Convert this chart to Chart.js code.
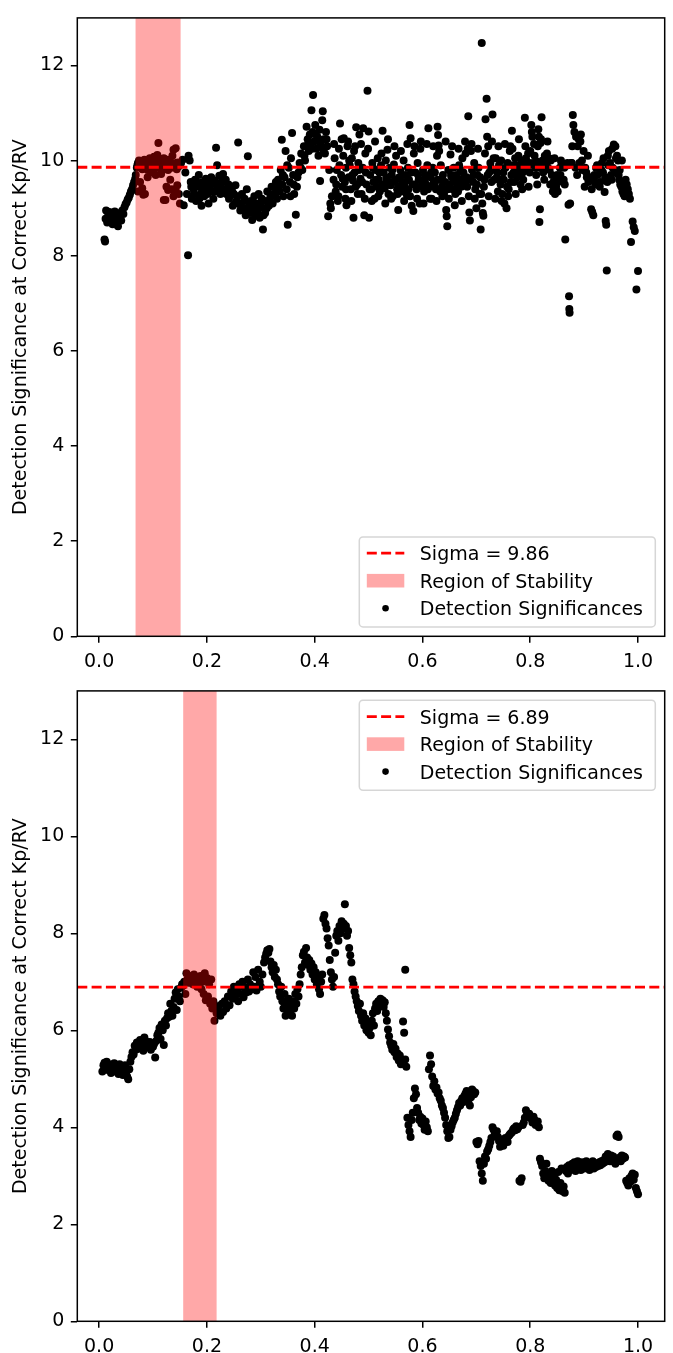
<!DOCTYPE html>
<html>
<head>
<meta charset="utf-8">
<script src="https://cdn.jsdelivr.net/npm/chart.js@4"></script>
<style>
  html, body { margin:0; padding:0; background:#fff; }
  #wrap { position:relative; width:673px; height:1353px; }
  canvas { position:absolute; left:0; }
  #c1 { top:0; }
  #c2 { top:673px; }
</style>
</head>
<body>
<div id="wrap">
  <canvas id="c1" width="673" height="673"></canvas>
  <canvas id="c2" width="673" height="680"></canvas>
</div>
<script>
// ---------------- DATA ----------------
const xTicks = [0.0, 0.2, 0.4, 0.6, 0.8, 1.0];
const yTicks = [0, 2, 4, 6, 8, 10, 12];
const yLabel = 'Detection Significance at Correct Kp/RV';
const legendLabels = ['Sigma = 9.86', 'Region of Stability', 'Detection Significances'];
const legendLabels2 = ['Sigma = 6.89', 'Region of Stability', 'Detection Significances'];
const topSigma = 9.86;
const botSigma = 6.89;
const topBand = [0.0676, 0.1512];
const botBand = [0.156, 0.218];

const topData = [
[0.010,8.34],[0.011,8.30],[0.012,8.78],[0.013,8.95],[0.015,8.70],[0.017,8.85],[0.019,8.92],[0.021,8.75],[0.023,8.88],[0.025,8.66],[0.027,8.82],[0.029,8.93],[0.031,8.78],[0.033,8.70],[0.035,8.62],[0.037,8.85],[0.039,8.90],[0.041,8.74],[0.043,8.95],[0.045,8.88],
[0.047,9.02],[0.049,9.08],[0.051,9.12],[0.053,9.18],[0.055,9.22],[0.057,9.28],[0.059,9.35],[0.061,9.40],[0.063,9.48],[0.065,9.55],[0.067,9.62],[0.068,9.70],
[0.070,9.85],[0.072,9.95],[0.074,10.00],[0.076,9.90],[0.078,9.98],[0.080,9.82],[0.082,9.93],[0.084,10.02],[0.086,9.88],[0.088,9.96],[0.090,9.80],[0.092,9.92],[0.094,10.05],[0.096,9.86],[0.098,9.98],[0.100,9.90],[0.102,10.08],[0.104,9.84],[0.106,9.95],[0.108,10.12],[0.110,10.37],[0.112,9.90],[0.114,10.03],[0.116,9.78],[0.118,9.92],[0.120,10.05],[0.122,9.86],[0.124,9.95],[0.126,10.02],[0.128,9.80],[0.130,9.93],[0.132,9.98],[0.134,9.85],[0.136,10.10],[0.138,10.23],[0.140,9.90],[0.142,10.26],[0.144,9.82],[0.146,9.96],[0.148,9.88],
[0.072,9.35],[0.076,9.55],[0.080,9.42],[0.082,9.28],[0.085,9.30],[0.090,9.65],[0.097,9.75],[0.105,9.70],[0.115,9.72],[0.120,9.17],[0.123,9.17],[0.125,9.45],[0.128,9.38],[0.132,9.60],[0.135,9.40],[0.138,9.25],[0.142,9.38],[0.145,9.48],[0.148,9.30],[0.150,9.10],
[0.071,9.90],[0.079,9.95],[0.087,9.85],[0.095,9.92],[0.103,9.88],[0.111,9.95],[0.119,9.85],[0.127,9.92],[0.135,9.88],[0.143,9.95],
[0.152,9.95],[0.155,10.02],[0.157,9.06],[0.160,9.75],[0.163,9.30],[0.165,8.01],[0.166,10.10],[0.168,10.00],[0.170,9.55],[0.172,9.20],[0.175,9.40],[0.178,9.60],[0.180,9.15],[0.183,9.45],[0.185,9.70],[0.188,9.30],[0.190,9.05],[0.192,9.55],[0.195,9.25],[0.198,9.62],[0.200,9.40],[0.203,9.10],[0.205,9.50],[0.208,9.65],[0.210,9.35],[0.212,9.20],[0.215,9.58],[0.217,10.27],[0.219,9.90],[0.220,9.45],[0.223,9.68],[0.225,9.30],[0.228,9.55],[0.230,9.72],[0.232,9.40],[0.235,9.60],[0.238,9.35],
[0.171,9.45],[0.176,9.30],[0.181,9.55],[0.186,9.20],[0.191,9.40],[0.196,9.50],[0.201,9.30],[0.206,9.45],[0.211,9.55],[0.216,9.35],[0.221,9.50],[0.226,9.40],[0.231,9.55],[0.236,9.30],
[0.240,9.50],[0.243,9.25],[0.246,9.45],[0.248,9.05],[0.250,9.30],[0.253,9.48],[0.255,9.15],[0.258,10.38],[0.260,9.10],[0.262,8.95],[0.265,9.30],[0.268,9.00],[0.270,9.20],[0.272,8.85],[0.274,9.40],[0.276,10.09],[0.278,9.05],[0.280,8.90],[0.282,9.15],[0.284,8.75],[0.286,9.00],[0.288,9.25],[0.290,8.85],[0.292,9.10],[0.294,8.95],[0.296,9.30],[0.298,8.80],[0.300,9.05],[0.302,9.20],[0.304,8.55],[0.306,9.00],[0.308,8.90],[0.310,9.15],[0.312,9.35],[0.315,9.05],[0.318,9.25],[0.320,9.45],[0.322,9.10],[0.325,9.30],[0.328,9.55],[0.330,9.20],
[0.241,9.20],[0.247,9.35],[0.252,9.10],[0.257,9.25],[0.263,9.05],[0.269,9.15],[0.275,8.95],[0.281,9.05],[0.287,8.90],[0.293,9.00],[0.299,9.10],[0.305,8.85],[0.311,9.00],[0.317,9.15],[0.323,9.30],[0.329,9.40],
[0.332,9.60],[0.335,9.35],[0.337,9.80],[0.339,10.44],[0.340,9.50],[0.342,9.25],[0.344,9.65],[0.346,10.20],[0.348,9.40],[0.350,8.65],[0.352,9.85],[0.354,9.55],[0.356,10.05],[0.358,10.58],[0.360,9.70],[0.362,9.30],[0.365,8.86],[0.367,9.45],[0.370,9.75],[0.372,9.95],[0.375,10.15],[0.377,9.80],[0.380,10.30],[0.382,10.00],[0.385,10.71],[0.387,10.45],[0.389,10.20],[0.391,10.55],[0.393,10.35],[0.394,11.06],[0.396,10.60],[0.397,11.38],[0.399,10.40],[0.401,10.75],[0.403,10.25],[0.405,10.50],[0.407,10.10],[0.409,10.65],[0.410,9.57],[0.412,10.30],[0.414,10.85],[0.415,11.04],[0.417,10.45],[0.419,10.15],[0.421,10.60],[0.423,10.30],[0.425,8.83],[0.427,9.80],[0.429,9.10],[0.430,9.00],[0.432,9.25],
[0.334,9.45],[0.341,9.70],[0.349,9.90],[0.355,9.25],[0.361,9.50],[0.368,9.65],[0.374,9.85],[0.381,10.10],[0.388,10.35],[0.395,10.25],[0.402,10.55],[0.408,10.40],[0.416,10.20],[0.422,10.45],
[0.435,9.60],[0.437,10.05],[0.439,9.35],[0.441,9.80],[0.443,9.15],[0.445,10.25],[0.447,10.78],[0.449,9.70],[0.451,9.45],[0.453,10.10],[0.454,10.47],[0.456,9.55],[0.458,9.85],[0.459,9.06],[0.461,10.30],[0.463,9.65],[0.465,9.90],[0.467,9.40],[0.469,10.05],[0.471,9.58],[0.472,8.80],[0.474,9.75],[0.475,10.30],[0.477,10.70],[0.479,9.50],[0.481,9.95],[0.483,10.55],[0.485,9.62],[0.487,9.30],[0.489,9.85],[0.490,10.68],[0.492,8.85],[0.494,10.15],[0.496,9.50],[0.498,11.47],[0.500,10.61],[0.501,8.80],[0.503,9.70],[0.505,9.40],[0.507,9.95],
[0.509,9.55],[0.511,9.20],[0.513,9.80],[0.515,9.45],[0.517,10.05],[0.519,9.60],[0.521,9.35],[0.523,9.90],[0.525,9.50],[0.526,10.63],[0.528,9.75],[0.530,9.42],[0.532,10.00],[0.534,9.58],[0.535,10.23],[0.537,9.30],[0.539,9.85],[0.541,9.48],[0.543,9.70],[0.545,9.25],[0.547,9.92],[0.549,9.55],[0.551,10.10],[0.553,9.40],[0.555,8.96],[0.557,9.65],[0.559,9.80],[0.561,9.35],[0.563,9.55],[0.565,10.00],[0.567,9.45],[0.569,9.70],[0.571,9.28],[0.573,9.85],[0.575,9.60],[0.576,10.75],[0.578,10.47],[0.580,9.05],[0.582,9.50],[0.583,8.94],[0.585,10.30],[0.587,9.75],[0.589,9.40],[0.591,9.95],[0.593,9.60],[0.595,9.10],[0.597,10.40],[0.599,9.55],
[0.601,9.80],[0.603,9.35],[0.605,9.70],[0.607,9.50],[0.609,9.90],[0.611,10.68],[0.613,9.45],[0.615,9.65],[0.617,9.20],[0.619,9.85],[0.621,9.55],[0.623,9.75],[0.625,9.40],[0.627,10.10],[0.628,10.71],[0.629,10.54],[0.630,10.32],[0.632,9.60],[0.634,9.90],[0.636,9.45],[0.638,9.70],[0.640,9.30],[0.642,9.55],[0.644,8.96],[0.645,8.83],[0.646,8.62],[0.648,9.80],[0.650,9.50],[0.652,10.13],[0.654,9.65],[0.656,9.40],[0.658,9.85],[0.660,9.06],[0.662,9.55],[0.664,9.70],[0.666,9.35],[0.668,9.90],[0.670,9.60],[0.672,9.45],[0.674,10.05],[0.676,9.75],[0.678,9.50],[0.680,10.15],[0.682,9.65],[0.684,10.25],[0.685,10.93],[0.687,8.91],[0.688,8.74],[0.690,10.20],[0.692,9.80],[0.694,9.55],[0.696,9.95],[0.698,9.40],[0.700,9.00],
[0.702,9.70],[0.704,9.85],[0.706,9.30],[0.708,8.55],[0.710,12.47],[0.711,9.10],[0.712,8.90],[0.713,8.84],[0.715,9.60],[0.717,10.87],[0.719,11.30],[0.720,10.50],[0.722,10.30],[0.724,9.75],[0.726,9.95],[0.728,9.55],[0.730,10.97],[0.732,10.05],[0.734,9.80],[0.736,10.05],[0.738,9.65],[0.740,9.35],[0.742,9.90],[0.744,9.60],[0.746,10.00],[0.748,9.30],[0.750,9.75],[0.752,9.10],[0.754,9.85],[0.756,9.00],[0.758,9.95],[0.760,9.40],[0.762,10.20],[0.763,10.30],[0.765,9.70],[0.766,10.63],[0.768,9.90],[0.770,9.55],[0.772,10.05],[0.774,9.80],[0.776,9.65],[0.778,10.10],[0.780,9.85],[0.782,9.50],[0.784,10.00],[0.786,9.75],[0.788,9.90],[0.790,10.90],[0.792,10.05],[0.794,9.80],[0.796,10.15],[0.798,9.95],[0.800,10.20],
[0.802,10.75],[0.803,10.60],[0.804,10.50],[0.806,9.90],[0.808,10.10],[0.810,9.85],[0.812,9.98],[0.814,10.30],[0.815,10.66],[0.816,10.50],[0.817,8.71],[0.818,8.98],[0.819,10.37],[0.821,10.91],[0.823,10.00],[0.825,9.90],[0.827,10.10],[0.829,9.95],[0.831,10.15],[0.833,9.85],[0.835,10.05],[0.838,10.00],[0.840,9.70],[0.842,9.35],[0.844,9.40],[0.846,9.30],[0.848,9.45],[0.850,9.70],[0.852,9.55],[0.855,9.85],[0.858,9.95],[0.860,9.90],[0.862,9.60],[0.865,8.34],[0.867,9.90],[0.869,9.95],[0.871,9.07],[0.872,7.15],[0.8725,6.88],[0.873,6.80],[0.874,9.10],[0.876,9.95],[0.879,10.96],[0.880,10.75],[0.882,10.60],[0.885,10.50],[0.888,10.30],[0.890,10.45],[0.893,10.40],[0.896,10.00],[0.899,10.20],
[0.902,9.85],[0.905,9.65],[0.908,9.55],[0.910,9.60],[0.913,8.98],[0.915,8.92],[0.917,8.85],[0.919,9.70],[0.921,9.50],[0.924,9.90],[0.927,9.85],[0.930,9.55],[0.933,9.95],[0.935,9.75],[0.938,9.34],[0.940,8.73],[0.941,8.65],[0.942,7.69],[0.944,10.10],[0.946,10.20],[0.948,9.95],[0.950,9.70],[0.952,10.25],[0.955,10.34],[0.957,9.80],[0.959,10.05],[0.961,10.10],[0.963,10.00],[0.965,9.60],[0.967,9.50],[0.969,9.45],[0.971,9.35],[0.973,9.30],[0.975,9.25],[0.977,9.60],[0.979,9.50],[0.981,9.40],[0.983,9.30],[0.985,9.20],[0.987,8.29],[0.990,8.72],[0.992,8.60],[0.994,8.52],[0.997,7.29],[1.000,7.68],
[0.440,9.50],[0.446,9.90],[0.452,9.62],[0.458,9.40],[0.464,10.00],[0.470,9.70],[0.476,9.45],[0.482,9.80],[0.488,9.55],[0.495,9.75],[0.502,9.40],[0.508,9.85],[0.514,9.60],[0.520,9.75],[0.527,9.45],[0.533,9.65],[0.538,9.55],[0.544,9.80],[0.550,9.60],[0.556,9.45],[0.562,9.70],[0.568,9.55],[0.574,9.40],[0.579,9.75],[0.586,9.50],[0.592,9.70],[0.598,9.45],[0.604,9.60],[0.610,9.40],[0.616,9.75],[0.622,9.50],[0.628,9.60],[0.633,9.35],[0.639,9.55],[0.647,9.40],[0.653,9.70],[0.659,9.55],[0.665,9.45],[0.671,9.80],[0.677,9.60],[0.683,9.45],[0.689,9.60],[0.695,9.70],[0.701,9.50],[0.707,9.65],[0.714,9.45],[0.721,9.70],[0.727,9.85],[0.733,9.60],[0.739,9.75],[0.745,9.50],[0.751,9.60],[0.757,9.45],[0.764,9.55],[0.769,9.75],[0.775,9.90],[0.781,9.70],[0.787,9.60],[0.793,9.85],[0.799,9.75],[0.805,9.95],[0.811,9.70],[0.818,9.85],[0.824,9.75],[0.830,9.90],[0.836,9.80],[0.843,9.55],[0.849,9.60],[0.856,9.70],[0.863,9.85],[0.870,9.90],[0.877,9.95],[0.884,9.85],[0.891,9.95],[0.897,9.80],[0.904,9.75],[0.911,9.65],[0.918,9.60],[0.925,9.70],[0.932,9.80],[0.939,9.65],[0.945,9.90],[0.953,9.85],[0.960,9.75],[0.966,9.80],[0.972,9.55],
[0.436,10.35],[0.444,9.25],[0.450,10.45],[0.457,9.20],[0.462,10.40],[0.468,9.15],[0.473,10.20],[0.480,9.30],[0.486,10.35],[0.493,9.20],[0.499,10.25],[0.506,9.15],[0.512,10.40],[0.518,9.25],[0.524,10.15],[0.531,9.10],[0.536,10.45],[0.542,9.20],[0.548,10.30],[0.554,9.30],[0.560,10.20],[0.566,9.15],[0.572,10.35],[0.577,9.25],[0.584,10.15],[0.590,9.20],[0.596,10.25],[0.602,9.10],[0.608,10.35],[0.614,9.20],[0.620,10.30],[0.626,9.15],[0.631,10.20],[0.637,9.25],[0.643,10.40],[0.649,9.20],[0.655,10.30],[0.661,9.30],[0.667,10.25],[0.673,9.15],[0.679,10.40],[0.686,9.25],[0.691,10.35],[0.697,9.20],[0.703,10.25],[0.709,9.30],[0.716,10.15],[0.723,9.25],[0.729,10.40],[0.735,9.20],[0.741,10.30],[0.747,9.15],[0.753,10.35],[0.759,9.25],[0.767,10.25],[0.773,9.30],[0.779,10.45],[0.785,9.40],[0.791,10.30],[0.797,9.45],[0.807,10.35],[0.813,9.50],[0.820,10.45],[0.826,9.60],[0.832,10.40],[0.837,9.50],[0.845,10.05],[0.851,9.35],[0.857,10.00],[0.864,9.50],[0.878,10.30],[0.887,9.70],[0.894,10.55],[0.901,9.45],[0.907,10.10],[0.914,9.40],[0.922,9.85],[0.929,9.45],[0.936,10.05],[0.943,9.55],[0.951,9.60],[0.958,10.30],[0.964,9.70],[0.970,10.00]
];

const botData = [
[0.006,5.15],[0.008,5.28],[0.010,5.33],[0.012,5.22],[0.014,5.35],[0.016,5.18],[0.018,5.30],[0.020,5.25],[0.022,5.12],[0.024,5.28],[0.026,5.20],[0.028,5.32],[0.030,5.15],[0.032,5.26],[0.034,5.22],[0.036,5.10],[0.038,5.30],[0.040,5.24],[0.042,5.18],[0.044,5.08],[0.046,5.22],[0.048,5.28],[0.050,5.12],[0.052,5.05],[0.054,4.99],[0.056,5.20],
[0.058,5.35],[0.060,5.45],[0.062,5.55],[0.064,5.50],[0.066,5.68],[0.068,5.60],[0.070,5.75],[0.072,5.62],[0.074,5.70],[0.076,5.80],[0.078,5.66],[0.080,5.72],[0.082,5.58],[0.084,5.85],[0.086,5.78],[0.088,5.65],[0.090,5.72],[0.092,5.68],[0.094,5.76],[0.096,5.60],[0.098,5.70],[0.100,5.66],[0.102,5.72],[0.104,5.44],[0.106,5.78],[0.108,5.90],[0.110,5.95],[0.112,6.05],[0.114,5.82],[0.116,6.12],[0.118,6.00],[0.120,5.70],[0.122,6.20],[0.124,6.10],[0.126,6.25],[0.128,6.35],[0.130,6.28],[0.132,6.55],[0.134,6.40],[0.136,6.30],[0.138,6.48],[0.140,6.65],[0.142,6.78],[0.144,6.42],[0.146,6.85],[0.148,6.70],[0.150,6.60],[0.152,6.88],[0.154,6.95],
[0.156,6.92],[0.158,7.00],[0.160,6.75],[0.162,7.18],[0.164,7.05],[0.166,6.98],[0.168,7.12],[0.170,7.02],[0.172,7.08],[0.174,6.95],[0.176,7.15],[0.178,7.00],[0.180,7.10],[0.182,6.90],[0.184,7.05],[0.186,6.95],[0.188,7.12],[0.190,6.85],[0.192,7.00],[0.194,6.75],[0.196,7.18],[0.198,6.62],[0.200,7.08],[0.202,6.70],[0.204,6.95],[0.206,6.55],[0.208,7.05],[0.210,6.45],[0.212,6.60],[0.214,6.20],[0.216,6.48],
[0.218,6.35],[0.220,6.42],[0.222,6.50],[0.225,6.30],[0.228,6.55],[0.230,6.38],[0.233,6.60],[0.236,6.45],[0.239,6.70],[0.242,6.52],[0.245,6.80],[0.248,6.65],[0.250,6.90],[0.253,6.72],[0.256,6.85],[0.258,6.60],[0.260,6.95],[0.263,6.75],[0.266,7.00],[0.268,6.68],[0.270,6.88],[0.273,6.78],[0.276,7.05],[0.278,6.80],[0.280,6.95],[0.283,6.85],[0.286,7.20],[0.288,6.90],[0.290,7.10],[0.292,6.82],[0.295,7.25],[0.298,7.00],[0.300,6.90],[0.303,7.15],[0.306,7.40],[0.308,7.50],[0.310,7.58],[0.312,7.65],[0.314,7.60],[0.316,7.68],[0.318,7.42],[0.320,7.30],[0.322,7.20],[0.324,7.35],[0.326,7.10],[0.328,7.25],[0.330,7.05],[0.332,6.95],[0.334,6.80],[0.336,6.70],[0.338,6.90],[0.340,6.60],[0.342,6.45],[0.344,6.75],[0.346,6.30],[0.348,6.55],[0.350,6.40],[0.352,6.65],[0.354,6.35],[0.356,6.50],[0.358,6.30],[0.360,6.60],[0.362,6.45],[0.364,6.75],[0.366,6.55],[0.368,6.85],[0.370,6.70],[0.372,6.95],[0.374,7.15],[0.376,7.30],[0.378,7.55],[0.380,7.62],[0.382,7.40],[0.384,7.70],[0.386,7.50],[0.388,7.35],[0.390,7.45],[0.392,7.25],[0.394,7.38],[0.396,7.15],[0.398,7.30],[0.400,7.05],[0.402,7.20],[0.404,6.95],[0.406,7.10],[0.408,6.85],[0.410,6.75],[0.412,7.00],[0.414,7.15],[0.416,8.30],[0.418,8.38],[0.420,8.20],[0.422,8.10],[0.424,7.90],[0.426,7.75],[0.428,7.45],[0.430,7.20],[0.432,7.05],[0.434,6.90],[0.436,7.10],[0.438,7.60],[0.440,7.95],[0.442,8.05],[0.444,7.85],[0.446,8.15],[0.448,8.00],[0.450,8.25],[0.452,8.10],[0.454,8.20],[0.456,8.60],[0.458,8.15],[0.460,7.95],[0.462,8.05],[0.464,7.70],[0.466,7.55],[0.468,7.40],[0.470,7.05],[0.472,6.95],[0.474,6.80],[0.476,6.70],[0.478,6.60],[0.480,6.50],[0.482,6.40],[0.484,6.55],[0.486,6.30],[0.488,6.20],[0.490,6.35],[0.492,6.10],[0.494,6.25],[0.496,6.00],[0.498,6.15],[0.500,5.95],[0.502,6.05],[0.504,5.90],[0.506,6.20],[0.508,6.35],[0.510,6.10],[0.512,6.45],[0.514,6.55],[0.516,6.40],[0.518,6.60],[0.520,6.50],[0.522,6.65],[0.524,6.55],[0.526,6.62],[0.528,6.48],[0.530,6.58],[0.532,6.35],[0.534,6.20],[0.536,6.02],[0.538,5.88],[0.540,5.75],[0.542,5.68],[0.544,5.60],[0.546,5.72],[0.548,5.55],[0.550,5.62],[0.552,5.45],[0.554,5.52],[0.556,5.38],[0.558,5.48],[0.560,5.30],[0.568,7.25],[0.564,6.18],[0.566,5.95],[0.568,5.40],[0.570,5.25],[0.572,4.20],[0.574,4.05],[0.576,3.92],[0.578,3.80],[0.580,4.15],[0.582,4.30],[0.584,4.60],[0.586,4.80],[0.588,4.68],[0.590,4.40],[0.592,4.30],[0.594,4.15],[0.596,4.22],[0.598,4.08],[0.600,4.18],[0.602,4.05],[0.604,3.95],[0.606,4.12],[0.608,4.00],[0.610,3.92],[0.612,5.20],[0.614,5.48],[0.616,5.30],[0.618,5.05],[0.620,4.85],[0.622,4.95],[0.624,4.78],[0.626,4.82],[0.628,4.70],[0.630,4.72],[0.632,4.60],[0.634,4.55],[0.636,4.45],[0.638,4.40],[0.640,4.30],[0.642,4.20],[0.644,4.05],[0.646,3.92],[0.648,3.78],[0.650,3.80],[0.652,3.95],[0.654,4.02],[0.656,4.10],[0.658,4.15],[0.660,4.20],[0.662,4.28],[0.664,4.35],[0.666,4.42],[0.668,4.50],[0.670,4.45],[0.672,4.55],[0.674,4.60],[0.676,4.52],[0.678,4.65],[0.680,4.70],[0.682,4.75],[0.684,4.72],[0.686,4.58],[0.688,4.45],[0.690,4.62],[0.692,4.78],[0.694,4.75],[0.696,4.68],[0.698,4.72],[0.700,3.70],[0.702,3.65],[0.704,3.72],[0.706,3.30],[0.708,3.20],[0.710,3.05],[0.712,2.90],[0.714,3.25],[0.716,3.40],[0.718,3.35],[0.720,3.50],[0.722,3.55],[0.724,3.62],[0.726,3.70],[0.728,3.78],[0.730,4.00],[0.732,3.95],[0.734,3.85],[0.736,3.88],[0.738,3.92],[0.740,3.80],[0.742,3.72],[0.744,3.60],[0.746,3.75],[0.748,3.68],[0.750,3.62],[0.752,3.70],[0.754,3.78],[0.756,3.74],[0.758,3.70],[0.760,3.82],[0.762,3.85],[0.764,3.88],[0.766,3.90],[0.768,3.95],[0.770,3.98],[0.772,3.94],[0.774,4.02],[0.776,3.96],[0.778,4.00],[0.780,2.90],[0.782,2.88],[0.784,2.95],[0.786,4.05],[0.788,4.10],[0.790,4.20],[0.792,4.35],[0.794,4.30],[0.796,4.25],[0.798,4.28],[0.800,4.20],[0.802,4.18],[0.804,4.10],[0.806,4.22],[0.808,4.15],[0.810,4.05],[0.812,4.08],[0.814,4.12],[0.816,4.00],[0.818,3.35],[0.820,3.28],[0.822,3.20],[0.824,3.05],[0.826,2.95],[0.828,3.10],[0.830,3.25],[0.832,3.00],[0.834,2.90],[0.836,3.05],[0.838,2.85],[0.840,3.10],[0.842,2.95],[0.844,3.00],[0.846,2.80],[0.848,2.92],[0.850,2.75],[0.852,3.08],[0.854,2.70],[0.856,2.85],[0.858,3.15],[0.860,2.68],[0.862,2.78],[0.864,2.65],[0.866,3.10],[0.868,3.18],[0.870,3.05],[0.872,3.22],[0.874,3.12],[0.876,3.20],[0.878,3.25],[0.880,3.15],[0.882,3.28],[0.884,3.10],[0.886,3.22],[0.888,3.30],[0.890,3.18],[0.892,3.25],[0.894,3.12],[0.896,3.28],[0.898,3.20],[0.900,3.15],[0.902,3.24],[0.904,3.30],[0.906,3.18],[0.908,3.22],[0.910,3.12],[0.912,3.25],[0.914,3.20],[0.916,3.30],[0.918,3.15],[0.920,3.22],[0.922,3.18],[0.924,3.25],[0.926,3.20],[0.928,3.28],[0.930,3.22],[0.932,3.30],[0.934,3.25],[0.936,3.32],[0.938,3.28],[0.940,3.40],[0.942,3.35],[0.944,3.45],[0.946,3.38],[0.948,3.30],[0.950,3.42],[0.952,3.35],[0.954,3.40],[0.956,3.30],[0.958,3.25],[0.960,3.82],[0.962,3.85],[0.964,3.80],[0.966,3.38],[0.968,3.30],[0.970,3.42],[0.972,3.35],[0.974,3.40],[0.976,3.38],[0.978,2.90],[0.980,2.85],[0.982,2.80],[0.984,2.95],[0.986,2.88],[0.988,3.00],[0.990,3.05],[0.992,2.92],[0.994,3.02],[0.996,2.75],[0.998,2.68],[1.000,2.62]
];

// ---------------- RENDERING ----------------
Chart.defaults.font.family = "'DejaVu Sans', sans-serif";
Chart.defaults.font.size = 19;
Chart.defaults.color = '#000';

const X_MIN = -0.0405, X_MAX = 1.0495;
const BAND_COLOR = 'rgba(255,0,0,0.34)';

const bandPlugin = {
  id: 'band',
  afterDatasetsDraw(chart, args, opts) {
    const x = chart.scales.x, ca = chart.chartArea, ctx = chart.ctx;
    const x0 = x.getPixelForValue(opts.from), x1 = x.getPixelForValue(opts.to);
    ctx.save();
    ctx.fillStyle = BAND_COLOR;
    ctx.fillRect(x0, ca.top, x1 - x0, ca.bottom - ca.top);
    ctx.restore();
  }
};

const framePlugin = {
  id: 'frame',
  afterDraw(chart) {
    const ca = chart.chartArea, ctx = chart.ctx;
    ctx.save();
    ctx.strokeStyle = '#000';
    ctx.lineWidth = 1.5;
    ctx.strokeRect(ca.left, ca.top, ca.right - ca.left, ca.bottom - ca.top);
    ctx.restore();
  }
};

const legendPlugin = {
  id: 'mplLegend',
  afterDraw(chart, args, opts) {
    const ctx = chart.ctx, ca = chart.chartArea;
    const W = 296, H = 90;
    const right = ca.right - 9.4, left = right - W;
    const top = opts.position === 'upper' ? ca.top + 9.4 : ca.bottom - 9.4 - H;
    const r = 3.7;
    ctx.save();
    ctx.beginPath();
    ctx.moveTo(left + r, top);
    ctx.lineTo(left + W - r, top);
    ctx.arcTo(left + W, top, left + W, top + r, r);
    ctx.lineTo(left + W, top + H - r);
    ctx.arcTo(left + W, top + H, left + W - r, top + H, r);
    ctx.lineTo(left + r, top + H);
    ctx.arcTo(left, top + H, left, top + H - r, r);
    ctx.lineTo(left, top + r);
    ctx.arcTo(left, top, left + r, top, r);
    ctx.closePath();
    ctx.fillStyle = 'rgba(255,255,255,0.8)';
    ctx.fill();
    ctx.strokeStyle = 'rgba(204,204,204,0.8)';
    ctx.lineWidth = 1.5;
    ctx.stroke();

    const rows = [top + 16.3, top + 43.8, top + 71.3];
    const hx0 = left + 7.5, hx1 = left + 45;
    ctx.strokeStyle = 'red';
    ctx.lineWidth = 2.8;
    ctx.setLineDash([10, 4.3]);
    ctx.beginPath();
    ctx.moveTo(hx0, rows[0]);
    ctx.lineTo(hx1, rows[0]);
    ctx.stroke();
    ctx.setLineDash([]);
    ctx.fillStyle = BAND_COLOR;
    ctx.fillRect(hx0, rows[1] - 6.8, hx1 - hx0, 13.6);
    ctx.fillStyle = '#000';
    ctx.beginPath();
    ctx.arc((hx0 + hx1) / 2, rows[2], 3.3, 0, Math.PI * 2);
    ctx.fill();
    ctx.font = "19px 'DejaVu Sans', sans-serif";
    ctx.textBaseline = 'alphabetic';
    ctx.textAlign = 'left';
    opts.labels.forEach((t, i) => ctx.fillText(t, left + 60.5, rows[i] + 6.9));
    ctx.restore();
  }
};

function makeChart(id, data, sigma, band, labels, legendPos, padTop, xAxisH) {
  return new Chart(document.getElementById(id), {
    type: 'scatter',
    data: {
      datasets: [
        {
          type: 'line',
          data: [{x: X_MIN, y: sigma}, {x: X_MAX, y: sigma}],
          borderColor: 'red',
          borderWidth: 2.8,
          borderDash: [10, 4.3],
          pointRadius: 0,
          fill: false
        },
        {
          data: data.map(([x, y]) => ({x, y})),
          backgroundColor: '#000',
          borderWidth: 0,
          pointRadius: 4,
          pointHoverRadius: 4
        }
      ]
    },
    options: {
      responsive: false,
      animation: false,
      devicePixelRatio: 1,
      events: [],
      layout: { padding: { top: padTop, right: 8.3, left: 0, bottom: 0 } },
      plugins: {
        legend: { display: false },
        tooltip: { enabled: false },
        band: { from: band[0], to: band[1] },
        mplLegend: { position: legendPos, labels: labels }
      },
      scales: {
        x: {
          type: 'linear',
          min: X_MIN,
          max: X_MAX,
          afterBuildTicks: s => { s.ticks = xTicks.map(v => ({value: v})); },
          afterFit: s => { s.height = xAxisH; },
          ticks: {
            callback: v => Number(v).toFixed(1),
            padding: 7.5,
            maxRotation: 0,
            autoSkip: false,
            color: '#000'
          },
          grid: {
            display: true,
            drawOnChartArea: false,
            drawTicks: true,
            tickLength: 6.5,
            lineWidth: 1.5,
            color: '#000'
          },
          border: { display: false }
        },
        y: {
          type: 'linear',
          min: 0,
          max: 13,
          afterBuildTicks: s => { s.ticks = yTicks.map(v => ({value: v})); },
          afterFit: s => { s.width = 77.3; },
          ticks: { padding: 6.5, color: '#000' },
          grid: {
            display: true,
            drawOnChartArea: false,
            drawTicks: true,
            tickLength: 6.5,
            lineWidth: 1.5,
            color: '#000'
          },
          border: { display: false },
          title: {
            display: true,
            text: yLabel,
            color: '#000',
            font: { size: 19 },
            padding: { top: 9.5, bottom: 0 }
          }
        }
      }
    },
    plugins: [bandPlugin, framePlugin, legendPlugin]
  });
}

makeChart('c1', topData, topSigma, topBand, legendLabels, 'lower', 5.7, 36.7);
makeChart('c2', botData, botSigma, botBand, legendLabels2, 'upper', 16.3, 31.7);
</script>
</body>
</html>
